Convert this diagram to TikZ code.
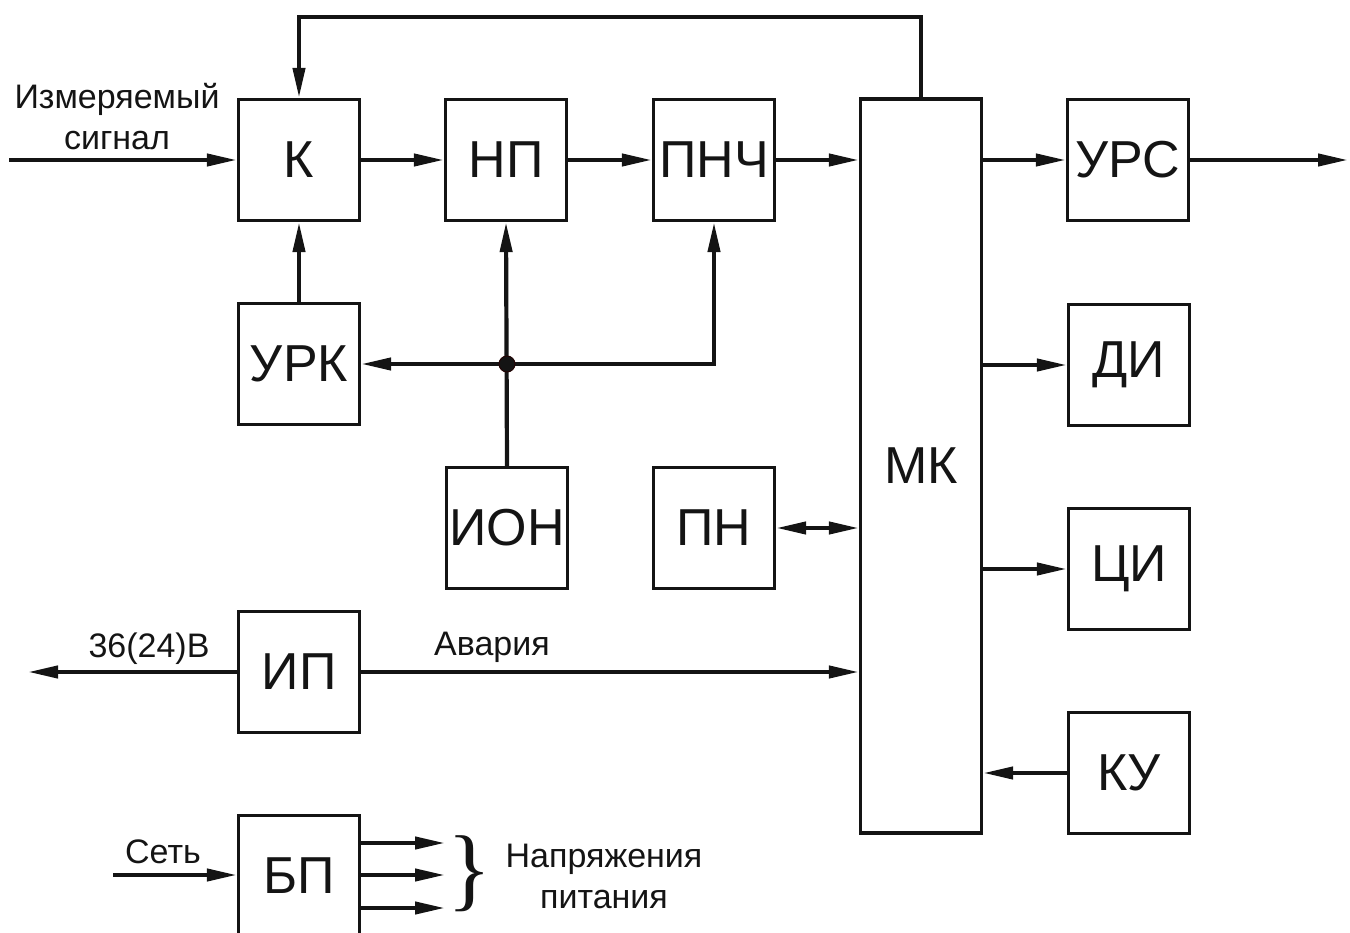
\documentclass[tikz,border=0pt]{standalone}
\usepackage{fontspec}
\setmainfont{Liberation Sans}
\newfontfamily\braceserif{Liberation Serif}
\usetikzlibrary{arrows.meta}
\definecolor{ink}{HTML}{141414}
\tikzset{
  blk/.style={draw=ink, line width=3.3pt, minimum width=121pt, minimum height=121pt,
    inner sep=0pt, font=\fontsize{52}{56}\selectfont, text=ink},
  tallblk/.style={blk, minimum height=734pt},
  conn/.style={draw=ink, line width=4.2pt},
  arr/.style={conn, -{Triangle[length=30pt,width=12pt]}},
  darr/.style={conn, {Triangle[length=30pt,width=12pt]}-{Triangle[length=30pt,width=12pt]}},
  lbl/.style={font=\fontsize{34}{41}\selectfont, text=ink, inner sep=0pt, anchor=base},
  dot/.style={circle, fill=ink, draw=ink!60!red!30!black, line width=1pt, minimum size=16pt, inner sep=0pt}
}
\begin{document}
\begin{tikzpicture}[x=1pt,y=-1pt]
\useasboundingbox (0,0) rectangle (1350,933);
% blocks
\node[blk] (k)    at (299,160) {К};
\node[blk] (np)   at (506,160) {НП};
\node[blk] (pnch) at (714,160) {ПНЧ};
\node[tallblk] (mk) at (921,466) {МК};
\node[blk] (urs)  at (1128,160) {УРС};
\node[blk] (urk)  at (299,364) {УРК};
\node[blk] (ion)  at (507,528) {ИОН};
\node[blk] (pn)   at (714,528) {ПН};
\node[blk] (di)   at (1129,365) {ДИ};
\node[blk] (ci)   at (1129,569) {ЦИ};
\node[blk] (ip)   at (299,672) {ИП};
\node[blk] (ku)   at (1129,773) {КУ};
\node[blk] (bp)   at (299,876) {БП};
% free ends
\coordinate (fb) at (299,17);
\coordinate (in) at (9,160);
\coordinate (out36) at (28,672);
\coordinate (outR) at (1348,160);
\coordinate (set) at (113,875);
\coordinate (o1) at (445,843);
\coordinate (o2) at (445,875);
\coordinate (o3) at (445,908);
\coordinate (j) at (ion.north |- urk);
% connectors
\draw[arr] (mk.north) |- (fb) -- (k.north);
\draw[arr] (in) -- (k.west);
\draw[arr] (urk.north) -- (k.south);
\draw[arr] (k.east) -- (np.west);
\draw[arr] (np.east) -- (pnch.west);
\draw[arr] (pnch.east) -- (pnch.east -| mk.west);
\draw[arr] (ion.north) -- (np.south);
\draw[arr] (j) -- (urk.east);
\draw[arr] (j) -| (pnch.south);
\node[dot] (jdot) at (j) {};
\draw[darr] (pn.east) -- (pn.east -| mk.west);
\draw[arr] (ip.west) -- (out36);
\draw[arr] (ip.east) -- (ip.east -| mk.west);
\draw[arr] (mk.east |- urs) -- (urs.west);
\draw[arr] (urs.east) -- (outR);
\draw[arr] (mk.east |- di) -- (di.west);
\draw[arr] (mk.east |- ci) -- (ci.west);
\draw[arr] (ku.west) -- (ku.west -| mk.east);
\draw[arr] (set) -- (set -| bp.west);
\draw[arr] (o1 -| bp.east) -- (o1);
\draw[arr] (o2 -| bp.east) -- (o2);
\draw[arr] (o3 -| bp.east) -- (o3);
% labels
\node[lbl, align=center] (meas) at (117,150) {Измеряемый\\сигнал};
\node[lbl] (l36) at (149,657) {36(24)В};
\node[lbl] (lav) at (492,655) {Авария};
\node[lbl] (lset) at (163,863) {Сеть};
\node[text=ink, inner sep=0pt, font=\braceserif\fontsize{92}{92}\selectfont] (brace) at (470,874) {\}};
\node[lbl, align=center] (lnap) at (604,908) {Напряжения\\питания};
\end{tikzpicture}
\end{document}
